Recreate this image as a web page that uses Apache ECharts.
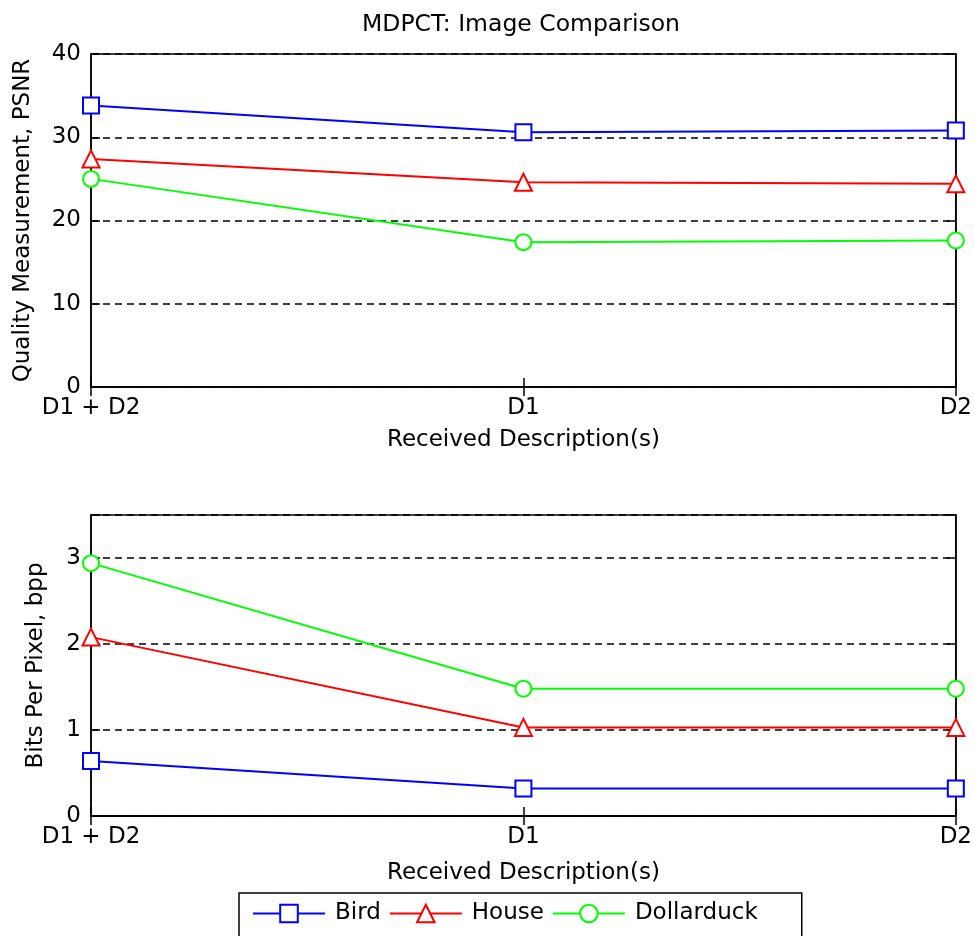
<!DOCTYPE html>
<html>
<head>
<meta charset="utf-8">
<script src="https://cdn.jsdelivr.net/npm/echarts@6/dist/echarts.min.js"></script>
<style>html,body{margin:0;padding:0;background:#fff}#c{width:975px;height:936px}</style>
</head>
<body>
<div id="c"></div>
<script>
var categories = ['D1 + D2', 'D1', 'D2'];
var seriesNames = ['Bird', 'House', 'Dollarduck'];
var psnrBird = [33.8, 30.6, 30.8];
var psnrHouse = [27.4, 24.6, 24.4];
var psnrDuck = [25.0, 17.4, 17.6];
var bppBird = [0.64, 0.32, 0.32];
var bppHouse = [2.08, 1.03, 1.03];
var bppDuck = [2.94, 1.48, 1.48];
var psnrTicks = [0, 10, 20, 30, 40];
var bppTicks = [0, 1, 2, 3];

var FONT = 'DejaVu Sans';
var FS = 23;
var colors = ['#0000ff', '#ff0000', '#00ff00'];
var symbols = ['emptyRect', 'emptyTriangle', 'emptyCircle'];
var symSizes = [16, 17, 16];

function mkX(gi, pos, name, nameGap) {
  return {
    type: 'category', gridIndex: gi, position: pos, data: categories, boundaryGap: false,
    name: name, nameLocation: 'middle', nameGap: nameGap,
    nameTextStyle: {fontFamily: FONT, fontSize: FS, color: '#000'},
    axisLine: {show: true, lineStyle: {color: '#000', width: 1.5}},
    axisTick: {show: true, inside: true, length: 9, alignWithLabel: true, lineStyle: {color: '#000', width: 1.5}},
    axisLabel: {show: pos === 'bottom', interval: 0, showMinLabel: true, showMaxLabel: true, margin: 10,
      fontFamily: FONT, fontSize: FS, color: '#000'},
    splitLine: {show: false}
  };
}
function mkY(gi, pos, maxV, ticks, name, nameGap) {
  return {
    type: 'value', gridIndex: gi, position: pos, min: 0, max: maxV, interval: ticks[1] - ticks[0],
    name: name, nameLocation: 'middle', nameGap: nameGap,
    nameTextStyle: {fontFamily: FONT, fontSize: FS, color: '#000'},
    axisLine: {show: true, lineStyle: {color: '#000', width: 1.5}},
    axisTick: {show: true, inside: true, length: 9, lineStyle: {color: '#000', width: 1.5}},
    axisLabel: {show: pos === 'left', margin: 10, fontFamily: FONT, fontSize: FS, color: '#000',
      formatter: function (v) { return ticks.indexOf(v) >= 0 ? String(v) : ''; }},
    splitLine: {show: pos === 'left', lineStyle: {color: '#000', width: 1.5, type: [7, 5]}}
  };
}

var series = [];
var psnrData = [psnrBird, psnrHouse, psnrDuck];
var bppData = [bppBird, bppHouse, bppDuck];
for (var i = 0; i < 3; i++) {
  [[psnrData[i], 0], [bppData[i], 2]].forEach(function (p) {
    series.push({
      type: 'line', name: seriesNames[i], data: p[0], xAxisIndex: p[1], yAxisIndex: p[1],
      symbol: symbols[i], symbolSize: symSizes[i], showAllSymbol: true,
      lineStyle: {color: colors[i], width: 2},
      itemStyle: {color: colors[i], borderColor: colors[i], borderWidth: 1.6},
      emphasis: {disabled: true}, animation: false, z: 5
    });
  });
}

var chart = echarts.init(document.getElementById('c'), null, {renderer: 'canvas'});
chart.setOption({
  backgroundColor: '#fff',
  animation: false,
  title: {text: 'MDPCT: Image Comparison', left: 516, top: 8, textAlign: 'center',
    textStyle: {fontFamily: FONT, fontSize: 23.5, fontWeight: 'normal', color: '#000'}},
  grid: [
    {left: 91, right: 15, top: 54, height: 333, show: true, borderColor: '#000', borderWidth: 1.5, backgroundColor: '#fff'},
    {left: 91, right: 15, top: 515, height: 301, show: true, borderColor: '#000', borderWidth: 1.5, backgroundColor: '#fff'}
  ],
  xAxis: [
    mkX(0, 'bottom', 'Received Description(s)', 42),
    mkX(0, 'top', '', 0),
    mkX(1, 'bottom', 'Received Description(s)', 46),
    mkX(1, 'top', '', 0)
  ],
  yAxis: [
    mkY(0, 'left', 40, psnrTicks, 'Quality Measurement, PSNR', 56),
    mkY(0, 'right', 40, psnrTicks, '', 0),
    mkY(1, 'left', 3.5, bppTicks, 'Bits Per Pixel, bpp', 43),
    mkY(1, 'right', 3.5, bppTicks, '', 0)
  ],
  legend: {
    data: seriesNames, left: 239, top: 893, orient: 'horizontal',
    itemWidth: 72, itemHeight: 22, itemGap: 8,
    padding: [9, 44, 40, 13],
    borderColor: '#000', borderWidth: 1.5, backgroundColor: '#fff',
    textStyle: {fontFamily: FONT, fontSize: FS, color: '#000', padding: [0, 0, 0, 5]},
    selectedMode: false
  },
  series: series
});
</script>
</body>
</html>
